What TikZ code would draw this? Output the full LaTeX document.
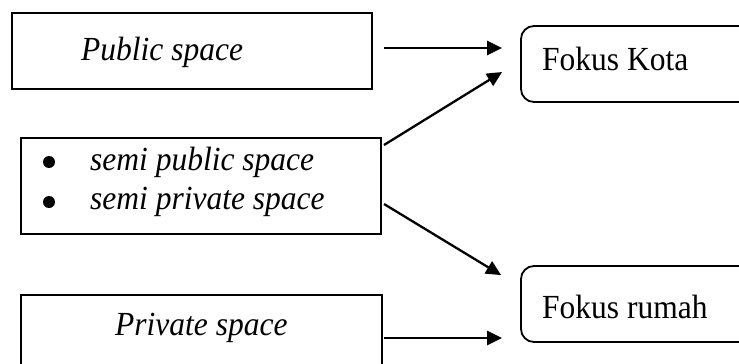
\documentclass[tikz,border=0pt]{standalone}
\usepackage{fontspec}
\setmainfont{Liberation Serif}
\usetikzlibrary{arrows.meta}
\begin{document}
\begin{tikzpicture}[x=1pt,y=1pt,
  every node/.style={font=\fontsize{31.5}{32}\selectfont},
  sqbox/.style={draw,line width=2pt,inner sep=0pt},
  rbox/.style={draw,line width=1.8pt,inner sep=0pt,rounded corners=13pt},
  arr/.style={line width=2.3pt,-{Triangle[length=15pt,width=14pt]}},
  dot/.style={circle,fill,inner sep=0pt,minimum size=12pt},
  txt/.style={anchor=base west,inner sep=0pt}]
\clip (0,0) rectangle (739,-364);
\useasboundingbox (0,0) rectangle (739,-364);
% boxes
\node[sqbox,minimum width=360pt,minimum height=76pt] (pub) at (192,-51) {};
\node[sqbox,minimum width=360pt,minimum height=96pt] (semi) at (201,-186) {};
\node[sqbox,minimum width=361pt,minimum height=90pt] (priv) at (201.5,-340) {};
\node[rbox,minimum width=250pt,minimum height=76pt] (kota) at (646,-64) {};
\node[rbox,minimum width=250pt,minimum height=76pt] (rumah) at (646,-304) {};
% texts
\node[txt] (tpub) at (81,-60) {\scalebox{1}[1.07]{\itshape Public space}};
\node[dot] (b1) at (49,-162) {};
\node[txt] (t1) at (90,-170) {\scalebox{1}[1.07]{\itshape semi public space}};
\node[dot] (b2) at (49,-202) {};
\node[txt] (t2) at (90,-209) {\scalebox{1}[1.07]{\itshape semi private space}};
\node[txt] (tpriv) at (115,-335) {\scalebox{1}[1.07]{\itshape Private space}};
\node[txt] (tkota) at (542,-70) {\scalebox{1}[1.07]{Fokus Kota}};
\node[txt] (trumah) at (542,-318) {\scalebox{1}[1.07]{Fokus rumah}};
% connectors
\draw[arr] ([xshift=11pt,yshift=3pt]pub.east) -- ([xshift=-18pt,yshift=16pt]kota.west);
\draw[arr] ([xshift=2pt,yshift=-8pt]semi.north east) -- ([xshift=-18pt,yshift=-8pt]kota.west);
\draw[arr] ([xshift=2pt,yshift=-18pt]semi.east) -- ([xshift=-19pt,yshift=-10pt]rumah.north west);
\draw[arr] ([xshift=1pt,yshift=2pt]priv.east) -- ([xshift=-18pt,yshift=-34pt]rumah.west);
\end{tikzpicture}
\end{document}
